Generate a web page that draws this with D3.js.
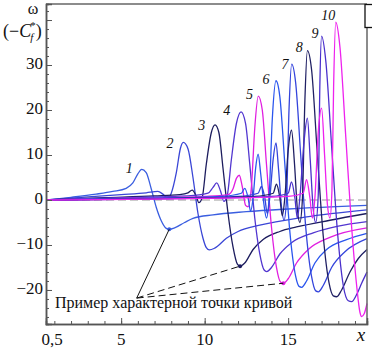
<!DOCTYPE html>
<html>
<head>
<meta charset="utf-8">
<script src="https://cdn.jsdelivr.net/npm/d3@7"></script>
<style>
  body { margin: 0; background: #fff; }
  svg text { font-family: "Liberation Serif", "DejaVu Serif", "Times New Roman", serif; fill: #111; }
</style>
</head>
<body>
<div id="chart"></div>
<script>
// axis ticks
const xMajor = [0.5, 5, 10, 15];
const xMajorLabels = ["0,5", "5", "10", "15"];
const xMinor = d3.range(1, 20, 1);
const yMajor = [-20, -10, 0, 10, 20, 30];
const yMinor = d3.range(-26, 43, 2);

// curves: [x, omega]
const curve1 = [[0.5,0],[2,0.6],[3.5,1.3],[4.5,1.9],[5.3,2.6],[5.7,3.8],[6.0,5.8],[6.23,6.8],[6.5,6.1],[6.8,2.5],[7.1,-1.6],[7.4,-4.6],[7.7,-6.3],[7.88,-6.5],[8.2,-6.2],[8.8,-5.0],[9.3,-4.1],[10.5,-3.3],[12.5,-2.6],[15,-2.0],[19.72,-1.2]];
const curve2 = [[0.5,0],[3,0.7],[5,1.2],[6.5,1.6],[7.2,1.9],[7.5,1.3],[7.8,0.4],[8.0,1.5],[8.3,6],[8.55,11.5],[8.72,12.8],[9.0,11.4],[9.3,5],[9.6,-3],[9.9,-8.5],[10.1,-10.6],[10.28,-11.1],[10.6,-10.7],[11.3,-8.5],[12,-7.0],[13.3,-5.6],[16,-3.8],[19.72,-2.2]];
const curve3 = [[0.5,0],[4,0.5],[7,0.9],[8.5,1.2],[9.0,1.6],[9.25,2.2],[9.5,0.8],[9.65,-0.6],[9.85,0.5],[10.1,8],[10.4,15],[10.62,16.7],[10.85,15],[11.1,7],[11.4,-3],[11.7,-10.5],[11.95,-14.2],[12.12,-14.7],[12.4,-14],[12.9,-11],[13.5,-8.8],[14.5,-7.0],[15.5,-6.0],[17.5,-4.5],[19.72,-3.0]];
const curve4 = [[0.5,0],[5,0.5],[9,0.9],[10.2,1.5],[10.5,2.8],[10.72,3.8],[10.95,2.0],[11.15,-0.3],[11.35,1.0],[11.6,9],[11.9,17],[12.18,19.6],[12.45,17],[12.7,8],[13.0,-4],[13.3,-12],[13.55,-15.5],[13.72,-15.9],[14.0,-15.0],[14.5,-12],[15.2,-9.5],[16.5,-7.3],[18,-5.8],[19.72,-4.8]];
const curve5 = [[0.5,0],[6,0.4],[10,0.8],[11.4,1.2],[11.7,2.5],[11.9,4.8],[12.07,5.5],[12.25,3],[12.45,-1.2],[12.6,-1.5],[12.8,3],[13.0,16],[13.21,23.1],[13.45,20],[13.7,8],[14.0,-6],[14.3,-15],[14.55,-18.3],[14.71,-18.5],[15.0,-17.5],[15.5,-14],[16.2,-11],[17.5,-8.3],[19.72,-6.2]];
const curve6 = [[0.5,0],[7,0.4],[11,0.8],[12.2,1.5],[12.4,2.6],[12.6,0.5],[12.75,-2.5],[12.9,0.5],[13.05,7],[13.2,10.2],[13.35,6],[13.55,-1],[13.7,-4],[13.85,0],[14.05,18],[14.27,26.5],[14.5,23],[14.8,8],[15.1,-7],[15.45,-17],[15.65,-19.2],[15.81,-19.4],[16.1,-18],[16.6,-14],[17.3,-11],[18.5,-8.8],[19.72,-7.4]];
const curve7 = [[0.5,0],[8,0.4],[12,0.8],[13.2,1.5],[13.4,3],[13.6,0.5],[13.75,-3],[13.9,0.5],[14.1,9],[14.27,12.7],[14.42,7],[14.6,-1.5],[14.75,-4.5],[14.9,0],[15.05,20],[15.21,30.2],[15.45,26],[15.75,10],[16.05,-6],[16.4,-17],[16.65,-20.2],[16.81,-20.4],[17.1,-19],[17.6,-15],[18.4,-11.5],[19.72,-8.6]];
const curve8 = [[0.5,0],[9,0.4],[13,0.8],[14.1,1.5],[14.3,3.5],[14.5,0.5],[14.65,-3.5],[14.8,0.5],[15.0,11],[15.2,15.5],[15.38,8],[15.55,-2],[15.7,-5],[15.85,0],[16.0,22],[16.15,33.2],[16.4,29],[16.75,10],[17.1,-8],[17.45,-18.5],[17.7,-21.3],[17.91,-21.5],[18.2,-20],[18.7,-16],[19.2,-13],[19.72,-11]];
const curve9 = [[0.5,0],[10,0.4],[14,0.8],[15.0,1.5],[15.2,4],[15.4,0.5],[15.55,-4],[15.7,0.5],[15.95,13],[16.15,18.2],[16.32,9],[16.5,-2],[16.65,-5],[16.8,1],[16.9,26],[17.0,36.4],[17.25,31],[17.6,12],[17.95,-7],[18.3,-19],[18.6,-22.4],[18.8,-22.6],[19.1,-21],[19.4,-18.5],[19.72,-16]];
const curve10 = [[0.5,0],[11,0.4],[15,0.8],[15.9,1.5],[16.1,4.5],[16.3,0.5],[16.45,-4],[16.6,0.5],[16.8,15],[17.0,20.4],[17.18,10],[17.35,-1],[17.5,-4],[17.62,2],[17.72,25],[17.85,39.5],[18.1,34],[18.45,14],[18.8,-6],[19.1,-19],[19.3,-25],[19.4,-25.9],[19.55,-25.3],[19.72,-23]];

const curves = [curve1, curve2, curve3, curve4, curve5, curve6, curve7, curve8, curve9, curve10];
const curveNames = ["1","2","3","4","5","6","7","8","9","10"];
const labelAt = [[5.48,6.7],[7.93,12.2],[9.83,16.3],[11.32,19.6],[12.68,23.1],[13.67,26.4],[14.81,29.8],[15.67,33.6],[16.6,36.8],[17.4,40.7]];
const curveColors = ["#3a5ee0","#3a46d6","#1c1c5e","#5236d0","#e01fe0","#2a55ee","#3444dc","#202064","#4a30cc","#ee22ee"];

// example points (troughs of curves 1, 3, 5) and the note anchor
const markedIdx = [0, 2, 4];
const markedPts = [[7.88,-6.5],[12.12,-14.7],[14.71,-18.5]];
const noteAnchor = [5.93,-21.8];
const noteText = "Пример характерной точки кривой";

const W = 372, H = 353;
const margin = { top: 4, right: 5, bottom: 29, left: 46 };
const serif = '"Liberation Serif", "DejaVu Serif", "Times New Roman", serif';

const svg = d3.select("#chart").append("svg")
  .attr("width", W).attr("height", H)
  .attr("font-family", serif);

const x = d3.scaleLinear().domain([0.5, 19.72]).range([margin.left, W - margin.right]);
const y = d3.scaleLinear().domain([-27.56, 43.56]).range([H - margin.bottom, margin.top]);

// dashed zero reference
svg.append("line")
  .attr("x1", x(0.5)).attr("x2", x(19.72))
  .attr("y1", y(0)).attr("y2", y(0))
  .attr("stroke", "#999").attr("stroke-width", 1.2)
  .attr("stroke-dasharray", "8,4");

// curves
const line = d3.line()
  .x(d => x(d[0]))
  .y(d => y(d[1]))
  .curve(d3.curveMonotoneX);

svg.append("g").selectAll("path")
  .data(curves)
  .enter().append("path")
  .attr("d", line)
  .attr("fill", "none")
  .attr("stroke", (d, i) => curveColors[i])
  .attr("stroke-width", 1.3);

// curve numbers
svg.append("g").selectAll("text")
  .data(labelAt)
  .enter().append("text")
  .attr("x", d => x(d[0]))
  .attr("y", d => y(d[1]))
  .attr("text-anchor", "middle")
  .attr("dominant-baseline", "middle")
  .style("font-family", serif)
  .style("font-style", "italic")
  .style("font-size", "14px")
  .text((d, i) => curveNames[i]);

// marked points
svg.append("g").selectAll("circle")
  .data(markedPts)
  .enter().append("circle")
  .attr("cx", d => x(d[0]))
  .attr("cy", d => y(d[1]))
  .attr("r", 2)
  .attr("fill", (d, i) => curveColors[markedIdx[i]]);

// pointer lines to the example points
svg.append("g").selectAll("line")
  .data(markedPts)
  .enter().append("line")
  .attr("x1", x(noteAnchor[0])).attr("y1", y(noteAnchor[1]))
  .attr("x2", d => x(d[0])).attr("y2", d => y(d[1]))
  .attr("stroke", "#111").attr("stroke-width", 1)
  .attr("stroke-dasharray", (d, i) => i === 0 ? null : "7,4");

svg.append("text")
  .attr("x", 55).attr("y", y(noteAnchor[1]) + 10)
  .style("font-family", serif)
  .style("font-size", "16px")
  .text(noteText);

// frame
const frame = svg.append("g").attr("stroke", "#666").attr("stroke-width", 1.5).attr("fill", "none");
frame.append("line").attr("x1", x(0.5)).attr("x2", x(19.72)).attr("y1", y(43.56)).attr("y2", y(43.56));
frame.append("line").attr("x1", x(19.72)).attr("x2", x(19.72)).attr("y1", y(43.56)).attr("y2", y(-27.56));

// axes (ticks inward)
const gx = svg.append("g").attr("transform", `translate(0,${y(-27.56)})`);
gx.call(d3.axisBottom(x).tickValues(xMinor).tickSize(-3).tickFormat(""));
gx.call(g => g.append("g").call(d3.axisBottom(x).tickValues(xMajor.slice(1)).tickSize(-6).tickFormat("")));
gx.selectAll(".domain").attr("stroke", "#555").attr("stroke-width", 1.5);
gx.selectAll(".tick line").attr("stroke", "#555");

svg.append("g").selectAll("text")
  .data(xMajor)
  .enter().append("text")
  .attr("x", (d, i) => x(d) + (i === 0 ? 6 : 0))
  .attr("y", y(-27.56) + 17)
  .attr("text-anchor", "middle")
  .attr("dominant-baseline", "middle")
  .style("font-family", serif)
  .style("font-size", "17px")
  .text((d, i) => xMajorLabels[i]);

svg.append("text")
  .attr("x", 361).attr("y", y(-27.56) + 13)
  .attr("text-anchor", "middle")
  .attr("dominant-baseline", "middle")
  .style("font-family", serif)
  .style("font-style", "italic")
  .style("font-size", "19px")
  .text("x");

const gy = svg.append("g").attr("transform", `translate(${x(0.5)},0)`);
gy.call(d3.axisLeft(y).tickValues(yMinor).tickSize(-3).tickFormat(""));
gy.call(g => g.append("g").call(d3.axisLeft(y).tickValues(yMajor.concat([40])).tickSize(-6).tickFormat("")));
gy.selectAll(".domain").attr("stroke", "#555").attr("stroke-width", 1.5);
gy.selectAll(".tick line").attr("stroke", "#555");

svg.append("g").selectAll("text")
  .data(yMajor)
  .enter().append("text")
  .attr("x", x(0.5) - 3)
  .attr("y", d => y(d))
  .attr("text-anchor", "end")
  .attr("dominant-baseline", "middle")
  .style("font-family", serif)
  .style("font-size", "17px")
  .text(d => d < 0 ? "\u2212" + Math.abs(d) : d);

// y title
svg.append("text")
  .attr("x", 33).attr("y", 14)
  .attr("text-anchor", "middle")
  .style("font-family", serif)
  .style("font-size", "16px")
  .text("ω");
const yt = svg.append("text")
  .attr("x", 3).attr("y", 37)
  .style("font-family", serif)
  .style("font-size", "18px");
yt.append("tspan").text("(\u2212");
yt.append("tspan").style("font-style", "italic").text("C");
yt.append("tspan").attr("dy", 4).attr("dx", -1).style("font-size", "11px").style("font-style", "italic").text("f");
yt.append("tspan").attr("dy", -12).attr("dx", -3).style("font-size", "11px").text("*");
yt.append("tspan").attr("dy", 8).text(")");

// cut-off legend box at top right
svg.append("rect")
  .attr("x", 365).attr("y", 4.5)
  .attr("width", 20).attr("height", 23)
  .attr("fill", "#fff").attr("stroke", "#111").attr("stroke-width", 1.3);
</script>
</body>
</html>
